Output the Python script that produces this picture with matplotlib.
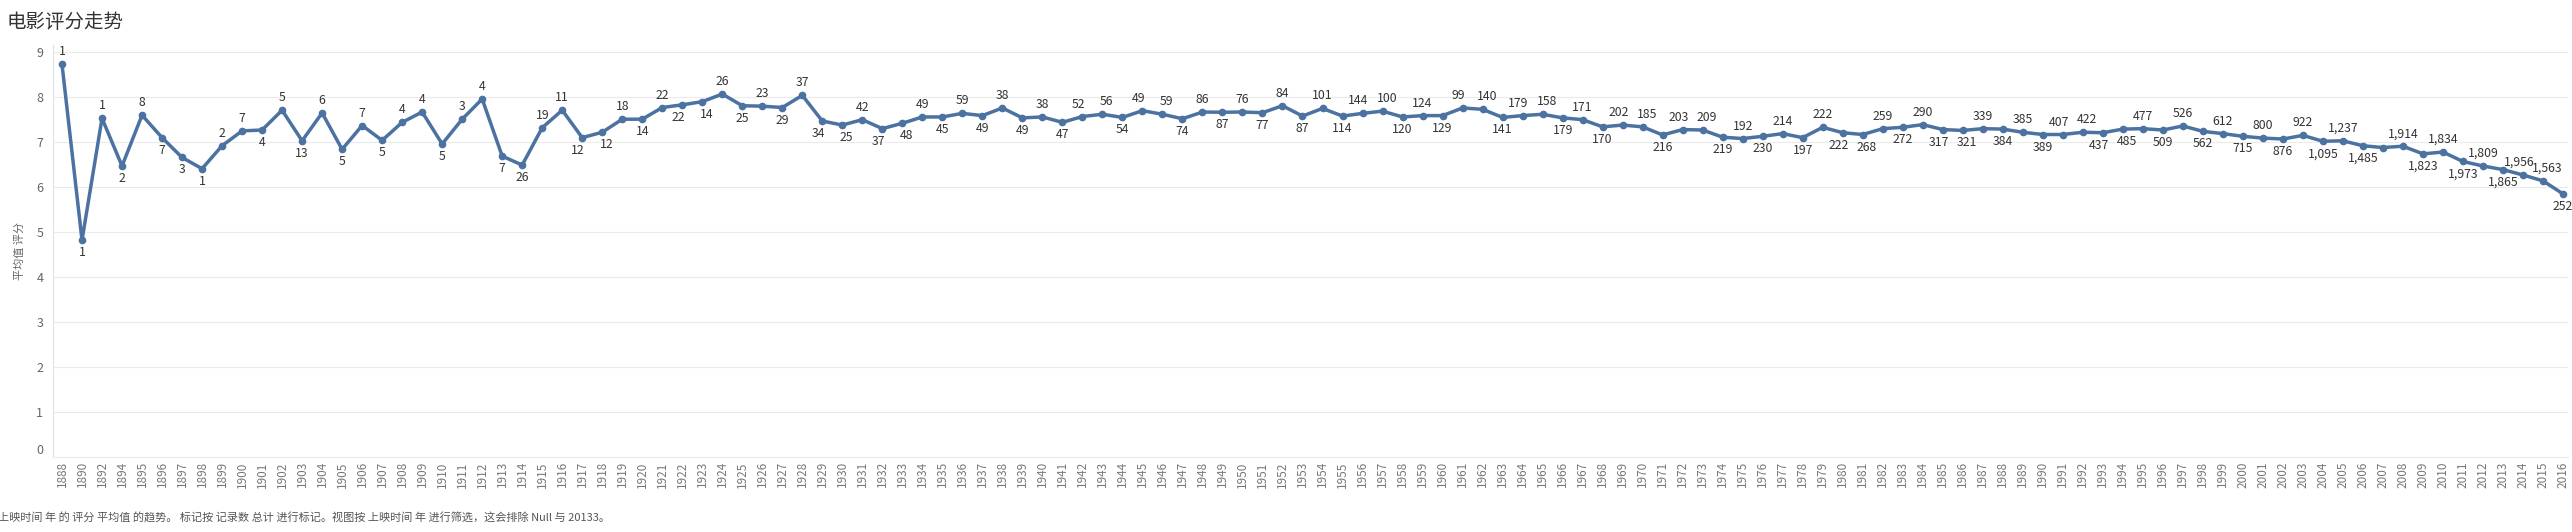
import matplotlib
matplotlib.use("Agg")
import matplotlib.pyplot as plt

plt.rcParams['font.family'] = ['Noto Sans CJK SC', 'DejaVu Sans']

# 上映年份
years = [1888, 1890, 1892] + list(range(1894, 2017))

# 评分平均值
avg_rating = [
    8.73, 4.82, 7.53, 6.47, 7.60, 7.10, 6.66, 6.41, 6.92, 7.25,
    7.27, 7.71, 7.03, 7.65, 6.84, 7.37, 7.04, 7.44, 7.67, 6.96,
    7.51, 7.96, 6.69, 6.49, 7.32, 7.71, 7.10, 7.22, 7.51, 7.51,
    7.77, 7.83, 7.90, 8.07, 7.81, 7.80, 7.77, 8.04, 7.47, 7.38,
    7.50, 7.30, 7.42, 7.56, 7.56, 7.64, 7.59, 7.76, 7.54, 7.56,
    7.44, 7.57, 7.62, 7.55, 7.70, 7.62, 7.52, 7.67, 7.665, 7.67,
    7.655, 7.81, 7.58, 7.75, 7.58, 7.64, 7.69, 7.56, 7.59, 7.59,
    7.76, 7.73, 7.55, 7.59, 7.62, 7.54, 7.50, 7.34, 7.38, 7.34,
    7.16, 7.28, 7.27, 7.11, 7.08, 7.13, 7.19, 7.10, 7.33, 7.21,
    7.17, 7.30, 7.33, 7.39, 7.28, 7.26, 7.30, 7.29, 7.22, 7.17,
    7.17, 7.22, 7.21, 7.29, 7.30, 7.27, 7.36, 7.24, 7.19, 7.13,
    7.09, 7.07, 7.15, 7.02, 7.03, 6.92, 6.88, 6.91, 6.74, 6.78,
    6.57, 6.47, 6.39, 6.27, 6.14, 5.85,
]

# 记录数 (2007 年的标签在原图中被隐藏)
record_count = [
    1, 1, 1, 2, 8, 7, 3, 1, 2, 7,
    4, 5, 13, 6, 5, 7, 5, 4, 4, 5,
    3, 4, 7, 26, 19, 11, 12, 12, 18, 14,
    22, 22, 14, 26, 25, 23, 29, 37, 34, 25,
    42, 37, 48, 49, 45, 59, 49, 38, 49, 38,
    47, 52, 56, 54, 49, 59, 74, 86, 87, 76,
    77, 84, 87, 101, 114, 144, 100, 120, 124, 129,
    99, 140, 141, 179, 158, 179, 171, 170, 202, 185,
    216, 203, 209, 219, 192, 230, 214, 197, 222, 222,
    268, 259, 272, 290, 317, 321, 339, 384, 385, 389,
    407, 422, 437, 485, 477, 509, 526, 562, 612, 715,
    800, 876, 922, 1095, 1237, 1485, None, 1914, 1823, 1834,
    1973, 1809, 1865, 1956, 1563, 252,
]

# 标签位置 (u = 点上方, d = 点下方), 每行 10 个点
label_side = (
    "udududdduu"
    "dudududuud"
    "uudduuddud"
    "uddudududd"
    "uddudududu"
    "duuduududu"
    "dududuudud"
    "uuduududuu"
    "duudududud"
    "dududdudud"
    "uuddududud"
    "ududud-udu"
    "duduud"
)

line_color = '#4B72A0'

fig = plt.figure(figsize=(25.72, 5.32), dpi=100)
ax = fig.add_axes([53 / 2572, (532 - 457) / 532, (2568 - 53) / 2572, (457 - 45) / 532])

x = list(range(len(years)))
ax.plot(x, avg_rating, color=line_color, lw=2.5, marker='o', ms=4.5,
        solid_joinstyle='round', zorder=3)

# 相邻同侧且高度接近的标签左右错开一点, 避免重叠
n = len(years)
dx = [0.0] * n
for i in range(1, n):
    if record_count[i] is None or record_count[i - 1] is None:
        continue
    if label_side[i] == label_side[i - 1] and abs(avg_rating[i] - avg_rating[i - 1]) < 0.15:
        dx[i - 1] -= 3
        dx[i] += 3

for i, (v, c) in enumerate(zip(avg_rating, record_count)):
    if c is None:
        continue
    above = label_side[i] == 'u'
    ax.annotate(f'{c:,}', (i, v), xytext=(dx[i], 9 if above else -9),
                textcoords='offset points', ha='center', va='center',
                fontsize=8.8, color='#333333', zorder=4)

ax.set_xlim(-0.45, n - 1 + 0.25)
ax.set_ylim(0, 9.16)
ax.set_yticks(range(10))
ax.set_xticks(x)
ax.set_xticklabels([str(y) for y in years], rotation=90, fontsize=8.5, color='#777777')
ax.tick_params(axis='x', length=0, pad=3)
ax.tick_params(axis='y', length=0, pad=7, labelsize=9, labelcolor='#666666')
ax.get_yticklabels()[0].set_verticalalignment('bottom')
ax.grid(axis='y', color='#ebebeb', lw=0.8)
ax.set_axisbelow(True)
for s in ['top', 'right']:
    ax.spines[s].set_visible(False)
ax.spines['bottom'].set_color('#ebebeb')
ax.spines['bottom'].set_linewidth(0.8)
ax.spines['left'].set_color('#e0e0e0')
ax.spines['left'].set_linewidth(0.8)
ax.set_ylabel('平均值 评分', fontsize=8, color='#666666', labelpad=8)

fig.text(7 / 2572, 1 - 22 / 532, '电影评分走势', fontsize=14, color='#333333', va='center')
fig.text(-2 / 2572, 1 - 518 / 532,
         '上映时间 年 的 评分 平均值 的趋势。 标记按 记录数 总计 进行标记。视图按 上映时间 年 进行筛选，这会排除 Null 与 20133。',
         fontsize=8, color='#555555', va='center')

fig.savefig('out.png', dpi=100)
